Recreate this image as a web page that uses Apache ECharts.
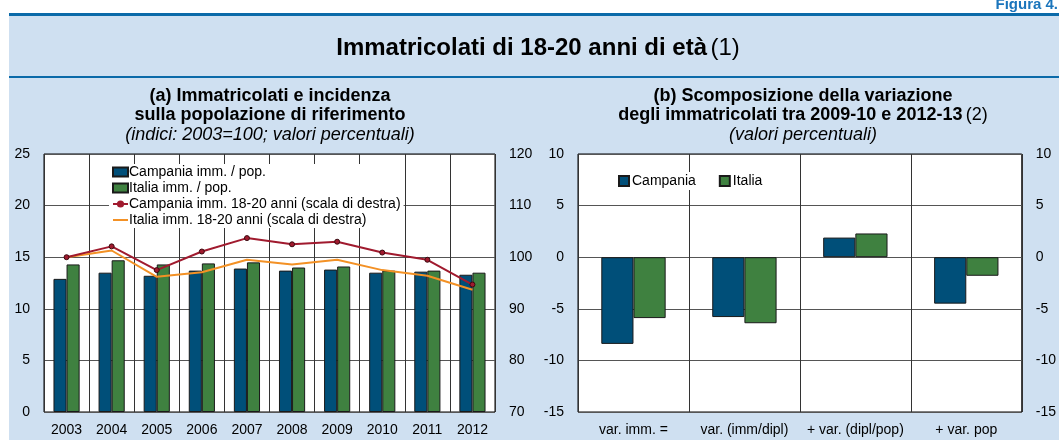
<!DOCTYPE html>
<html>
<head>
<meta charset="utf-8">
<script src="https://cdn.jsdelivr.net/npm/echarts@6/dist/echarts.min.js"></script>
<style>
  html, body { margin: 0; padding: 0; background: #fff; }
  #chart { width: 1059px; height: 440px; }
</style>
</head>
<body>
<div id="chart"></div>
<script>
// dati pannello (a)
const years = ['2003', '2004', '2005', '2006', '2007', '2008', '2009', '2010', '2011', '2012']
const campaniaRate = [12.9, 13.5, 13.2, 13.7, 13.9, 13.7, 13.8, 13.5, 13.6, 13.3]
const italiaRate = [14.3, 14.7, 14.3, 14.4, 14.5, 14.0, 14.1, 13.7, 13.7, 13.5]
const campaniaIndex = [100, 102.1, 97.5, 101.1, 103.7, 102.5, 103.0, 100.9, 99.5, 94.7]
const italiaIndex = [100, 101.3, 96.2, 97.1, 99.5, 98.6, 99.5, 97.5, 96.4, 93.7]
const leftTicks = [0, 25, 5]
const rightTicks = [70, 120, 10]

// dati pannello (b)
const components = ['var. imm. =', 'var. (imm/dipl)', '+ var. (dipl/pop)', '+ var. pop']
const campaniaVar = [-8.4, -5.8, 1.9, -4.5]
const italiaVar = [-5.9, -6.4, 2.3, -1.8]
const varTicks = [-15, 10, 5]

const FONT = '"Liberation Sans", Arial, sans-serif'
const BLUE = '#004f79'
const GREEN = '#3f8140'
const RED = '#a01a2e'
const ORANGE = '#f39125'
const BG = '#cfe0f1'

;(function () {
    const chart = echarts.init(document.getElementById('chart'))

    const valueAxis = (grid, ticks, pos, split) => ({
        type: 'value',
        gridIndex: grid,
        position: pos,
        min: ticks[0],
        max: ticks[1],
        interval: ticks[2],
        axisLine: { show: false },
        axisTick: { show: false },
        axisLabel: { color: '#000', fontSize: 14, fontFamily: FONT, margin: 14 },
        splitLine: { show: split, lineStyle: { color: '#555', width: 1 } }
    })

    const catAxis = (grid, data) => ({
        type: 'category',
        gridIndex: grid,
        data: data,
        axisLine: { show: false, onZero: false },
        axisTick: { show: false },
        axisLabel: { color: '#000', fontSize: 14, fontFamily: FONT, margin: 11, interval: 0 },
        splitLine: { show: true, lineStyle: { color: '#333', width: 1 } }
    })

    const barStyle = (color) => ({ color: color, borderColor: '#1a1a1a', borderWidth: 1 })

    // testi con parti in grassetto / corsivo
    const rich = (size, lh) => ({
        b: { fontSize: size, fontWeight: 'bold', fontFamily: FONT, lineHeight: lh, fill: '#000' },
        n: { fontSize: size, fontFamily: FONT, lineHeight: lh, fill: '#000' },
        i: { fontSize: size, fontStyle: 'italic', fontFamily: FONT, lineHeight: lh, fill: '#000' }
    })

    const option = {
        backgroundColor: BG,
        animation: false,
        textStyle: { fontFamily: FONT },
        graphic: [
            { type: 'rect', shape: { x: 0, y: 0, width: 1059, height: 13 }, style: { fill: '#fff' } },
            { type: 'rect', shape: { x: 0, y: 0, width: 9, height: 440 }, style: { fill: '#fff' } },
            { type: 'rect', shape: { x: 9, y: 13, width: 1050, height: 3 }, style: { fill: '#0b6aa9' } },
            { type: 'rect', shape: { x: 9, y: 76, width: 1050, height: 2 }, style: { fill: '#0b6aa9' } },
            {
                type: 'text', x: 1058, y: -3,
                style: { text: 'Figura 4.', align: 'right', verticalAlign: 'top', fill: '#1b75bc', font: 'bold 15px ' + FONT }
            },
            {
                type: 'text', x: 538, y: 48,
                style: {
                    text: '{b|Immatricolati di 18-20 anni di età} {n|(1)}',
                    align: 'center', verticalAlign: 'middle',
                    rich: rich(24, 28)
                }
            },
            {
                type: 'text', x: 270, y: 87,
                style: {
                    text: '{b|(a) Immatricolati e incidenza}\n{b|sulla popolazione di riferimento}\n{i|(indici: 2003=100; valori percentuali)}',
                    align: 'center', verticalAlign: 'top',
                    rich: rich(18, 19)
                }
            },
            {
                type: 'text', x: 803, y: 87,
                style: {
                    text: '{b|(b) Scomposizione della variazione}\n{b|degli immatricolati tra 2009-10 e 2012-13} {n|(2)}\n{i|(valori percentuali)}',
                    align: 'center', verticalAlign: 'top',
                    rich: rich(18, 19)
                }
            }
        ],
        legend: [
            {
                orient: 'vertical',
                left: 109, top: 164,
                itemGap: 2, itemWidth: 15, itemHeight: 9,
                backgroundColor: '#fff',
                padding: [1, 3, 1, 3],
                textStyle: { color: '#000', fontSize: 14, fontFamily: FONT, padding: [0, 0, 0, -4] },
                data: [
                    { name: 'Campania imm. / pop.', icon: 'rect' },
                    { name: 'Italia imm. / pop.', icon: 'rect' },
                    { name: 'Campania imm. 18-20 anni (scala di destra)', itemStyle: { borderWidth: 0 } },
                    { name: 'Italia imm. 18-20 anni (scala di destra)', itemStyle: { opacity: 0 } }
                ]
            },
            {
                left: 615, top: 172,
                itemGap: 23, itemWidth: 10, itemHeight: 10,
                icon: 'rect',
                backgroundColor: '#fff',
                padding: [2, 3, 2, 3],
                textStyle: { color: '#000', fontSize: 14, fontFamily: FONT, padding: [0, 0, 0, -2] },
                data: ['Campania', 'Italia']
            }
        ],
        grid: [
            { left: 44, right: 564, top: 154, bottom: 28, show: true, backgroundColor: '#fff', borderColor: '#000', borderWidth: 1 },
            { left: 578, right: 31, top: 154, bottom: 28, show: true, backgroundColor: '#fff', borderColor: '#000', borderWidth: 1 }
        ],
        xAxis: [catAxis(0, years), catAxis(1, components)],
        yAxis: [
            valueAxis(0, leftTicks, 'left', true),
            valueAxis(0, rightTicks, 'right', false),
            valueAxis(1, varTicks, 'left', true),
            valueAxis(1, varTicks, 'right', false)
        ],
        series: [
            {
                name: 'Campania imm. / pop.', type: 'bar', xAxisIndex: 0, yAxisIndex: 0,
                barWidth: '29%', barGap: '0%', itemStyle: barStyle(BLUE), data: campaniaRate
            },
            {
                name: 'Italia imm. / pop.', type: 'bar', xAxisIndex: 0, yAxisIndex: 0,
                barWidth: '29%', barGap: '0%', itemStyle: barStyle(GREEN), data: italiaRate
            },
            {
                name: 'Campania imm. 18-20 anni (scala di destra)', type: 'line', xAxisIndex: 0, yAxisIndex: 1,
                symbol: 'circle', symbolSize: 5, z: 5,
                lineStyle: { color: RED, width: 2 },
                itemStyle: { color: RED, borderColor: '#3a0a10', borderWidth: 1 },
                data: campaniaIndex
            },
            {
                name: 'Italia imm. 18-20 anni (scala di destra)', type: 'line', xAxisIndex: 0, yAxisIndex: 1,
                symbol: 'none', z: 4,
                lineStyle: { color: ORANGE, width: 2 },
                itemStyle: { color: ORANGE },
                data: italiaIndex
            },
            {
                name: 'Campania', type: 'bar', xAxisIndex: 1, yAxisIndex: 2,
                barWidth: '29%', barGap: '0%', itemStyle: barStyle(BLUE), data: campaniaVar
            },
            {
                name: 'Italia', type: 'bar', xAxisIndex: 1, yAxisIndex: 2,
                barWidth: '29%', barGap: '0%', itemStyle: barStyle(GREEN), data: italiaVar
            }
        ]
    }
    chart.setOption(option)
})();
</script>
</body>
</html>
